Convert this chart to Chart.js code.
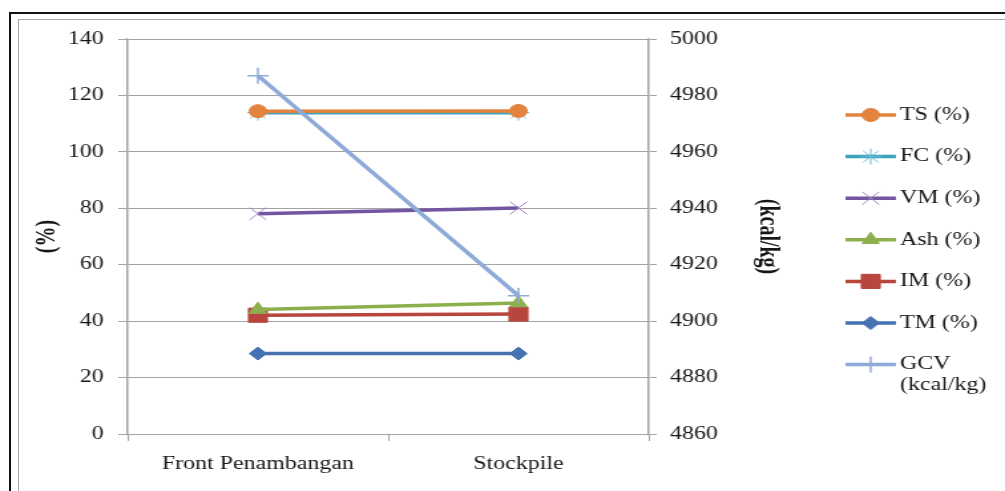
<!DOCTYPE html>
<html>
<head>
<meta charset="utf-8">
<script src="https://cdn.jsdelivr.net/npm/chart.js@4.4.1/dist/chart.umd.min.js"></script>
<style>
  html, body { margin: 0; padding: 0; background: #fff; overflow: hidden; }
  #wrap { position: relative; width: 1005px; height: 491px; }
  #chart { position: absolute; left: 0; top: 0; }
  .frame { position: absolute; pointer-events: none; }
</style>
</head>
<body>
<div id="wrap">
  <div class="frame" style="left:9px; top:12px; right:0; bottom:0; border-left:2px solid #111; border-top:2px solid #111;"></div>
  <div class="frame" style="left:18px; top:19px; right:0; bottom:0; border-left:1px solid #a8a8a8; border-top:1px solid #a8a8a8;"></div>
  <!-- drawn narrow and stretched, like the original picture -->
  <canvas id="chart" width="756" height="491" style="width:1005px; height:491px;"></canvas>
</div>
<script>
const categories = ['Front Penambangan', 'Stockpile'];

const tsValues = [114.4, 114.5];
const fcValues = [113.9, 113.9];
const vmValues = [78.1, 80.1];
const ashValues = [44.1, 46.4];
const imValues = [42.1, 42.5];
const tmValues = [28.5, 28.5];
const gcvValues = [4987, 4909];

const percentTicks = [0, 20, 40, 60, 80, 100, 120, 140];
const gcvTicks = [4860, 4880, 4900, 4920, 4940, 4960, 4980, 5000];

const FONT = 'Liberation Serif';
const TEXT = '#161616';
const GRID = '#a3a3a3';

function series(label, data, color, style, radius, extra) {
    return Object.assign({
        label: label,
        data: data,
        borderColor: color,
        backgroundColor: color,
        borderWidth: 3.5,
        pointStyle: style,
        pointRadius: radius,
        pointHoverRadius: radius,
        pointBackgroundColor: color,
        pointBorderColor: color,
        pointBorderWidth: 1,
        tension: 0,
        fill: false,
        yAxisID: 'y'
    }, extra || {});
}

// legend drawn at the right side, line + marker + text
const sideLegend = {
    id: 'sideLegend',
    afterDraw(chart) {
        const ctx = chart.ctx;
        const top = 115, step = 41.6;
        ctx.save();
        chart.data.datasets.forEach((ds, i) => {
            const y = top + i * step;
            ctx.strokeStyle = ds.borderColor;
            ctx.lineWidth = ds.borderWidth;
            ctx.beginPath();
            ctx.moveTo(636, y);
            ctx.lineTo(674, y);
            ctx.stroke();

            ctx.fillStyle = ds.pointBackgroundColor;
            ctx.strokeStyle = ds.pointBorderColor;
            ctx.lineWidth = ds.pointBorderWidth;
            Chart.helpers.drawPoint(ctx, {
                pointStyle: ds.pointStyle,
                radius: ds.pointRadius,
                rotation: 0,
                borderWidth: ds.pointBorderWidth
            }, 655, y);

            ctx.fillStyle = TEXT;
            ctx.font = '18px "' + FONT + '"';
            ctx.textBaseline = 'middle';
            ctx.textAlign = 'left';
            ds.label.split('\n').forEach((line, j) => {
                ctx.fillText(line, 677, y + j * 21);
            });
        });
        ctx.restore();
    }
};

const plain = v => String(v);

const ctx = document.getElementById('chart').getContext('2d');
new Chart(ctx, {
    type: 'line',
    data: {
        labels: categories,
        datasets: [
            series('TS (%)', tsValues, '#e3833d', 'circle', 6.5, { order: 1 }),
            series('FC (%)', fcValues, '#3fa2bc', 'star', 8, { order: 2, pointBorderColor: '#62bcd4' }),
            series('VM (%)', vmValues, '#7256a0', 'crossRot', 9, { order: 3, pointBorderColor: '#9a86c2' }),
            series('Ash (%)', ashValues, '#8db04e', 'triangle', 7.5, { order: 4 }),
            series('IM (%)', imValues, '#b8463f', 'rect', 10, { order: 5 }),
            series('TM (%)', tmValues, '#4672b1', 'rectRot', 6.5, { order: 6 }),
            series('GCV\n(kcal/kg)', gcvValues, '#8eaad7', 'cross', 8, { order: 0, pointBorderWidth: 1.5, yAxisID: 'y1' })
        ]
    },
    options: {
        responsive: false,
        animation: false,
        devicePixelRatio: 1,
        layout: { padding: { left: 0, top: 39, right: 148, bottom: 17 } },
        plugins: {
            legend: { display: false },
            tooltip: { enabled: false }
        },
        scales: {
            x: {
                offset: true,
                grid: { display: true, drawOnChartArea: false, offset: true, color: GRID, tickLength: 7 },
                border: { color: GRID, width: 1 },
                ticks: { color: TEXT, font: { family: FONT, size: 18 }, padding: 12, maxRotation: 0 },
                afterFit(scale) { scale.height = 40; }
            },
            y: {
                position: 'left',
                min: percentTicks[0],
                max: percentTicks[percentTicks.length - 1],
                ticks: { stepSize: percentTicks[1] - percentTicks[0], callback: plain, color: TEXT, font: { family: FONT, size: 18 }, padding: 11 },
                grid: { color: GRID, lineWidth: 1, tickLength: 7 },
                border: { color: GRID, width: 1.5 },
                title: { display: true, text: '(%)', color: TEXT, font: { family: FONT, size: 20, weight: 'bold' }, padding: { top: 24, bottom: 0 } },
                afterFit(scale) { scale.width = 96; }
            },
            y1: {
                position: 'right',
                min: gcvTicks[0],
                max: gcvTicks[gcvTicks.length - 1],
                ticks: { stepSize: gcvTicks[1] - gcvTicks[0], callback: plain, color: TEXT, font: { family: FONT, size: 18 }, padding: 10 },
                grid: { drawOnChartArea: false, color: GRID, tickLength: 6 },
                border: { color: GRID, width: 1.5 },
                title: { display: true, text: '(kcal/kg)', color: TEXT, font: { family: FONT, size: 20, weight: 'bold' }, padding: { top: 19, bottom: 0 } },
                afterFit(scale) { scale.width = 120; }
            }
        }
    },
    plugins: [sideLegend]
});
</script>
</body>
</html>
